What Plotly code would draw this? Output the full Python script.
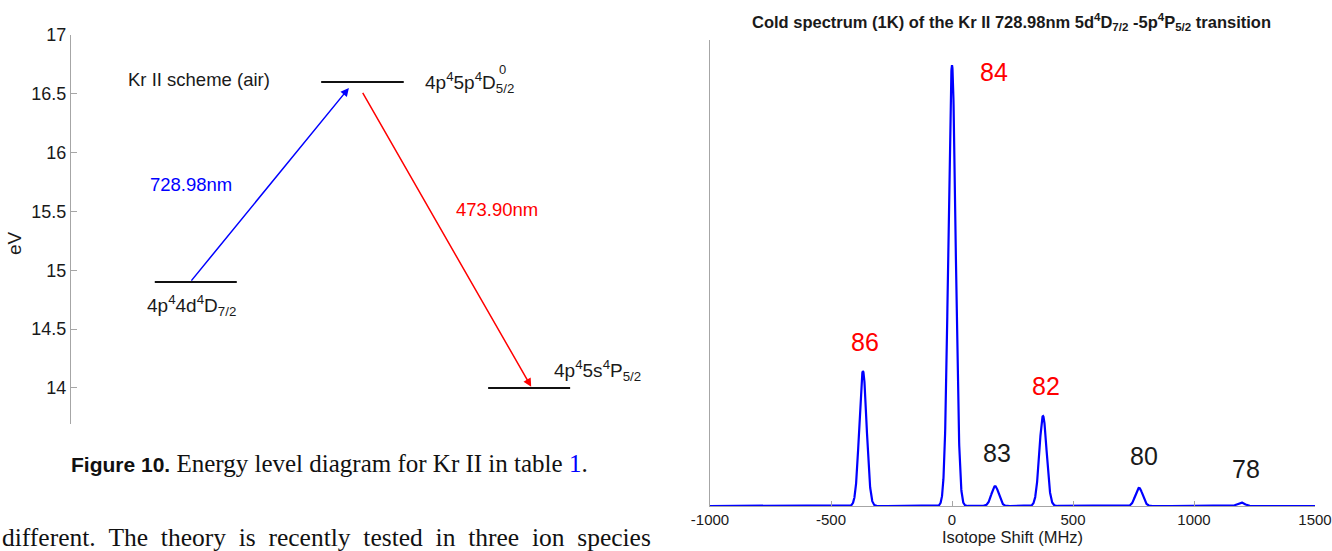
import numpy as np
import plotly.graph_objects as go

W, H = 1332, 551

# ---------------- Kr II energy level scheme ----------------
level_names = [
    "4p<sup>4</sup>4d<sup>4</sup>D<sub>7/2</sub>",
    "4p<sup>4</sup>5p<sup>4</sup>D<sub>5/2</sub>",
    "4p<sup>4</sup>5s<sup>4</sup>P<sub>5/2</sub>",
]
level_energy = [14.90, 16.60, 14.00]          # eV
level_x0 = [1.42, 4.24, 7.07]
level_x1 = [2.81, 5.64, 8.46]

transition_labels = ["728.98nm", "473.90nm"]
transition_colors = ["#0000ff", "#ff0000"]
transition_tail_x = [2.02, 4.93]
transition_tail_e = [14.90, 16.52]
transition_head_x = [4.71, 7.80]
transition_head_e = [16.55, 14.01]

energy_ticks = [14, 14.5, 15, 15.5, 16, 16.5, 17]

# ---------------- Isotope spectrum (1K) ----------------
isotopes = ["86", "84", "83", "82", "80", "78"]
isotope_shift = [-368, 0, 178, 376, 773, 1194]      # MHz
isotope_height = [30.6, 100.0, 4.5, 20.4, 4.1, 0.8]  # relative
isotope_label_color = ["#ff0000", "#ff0000", "#1a1a1a", "#ff0000", "#1a1a1a", "#1a1a1a"]
doppler_sigma = 15.0                                  # MHz

shift_ticks = [-1000, -500, 0, 500, 1000, 1500]
shift_ticktext = ["-1000", "-500", "0", "500", "1000", "1500"]

# label placement (MHz, relative intensity)
iso_label_x = [-360, 174, 186, 388, 793, 1215]
iso_label_y = [37.2, 98.4, 12.0, 27.2, 11.3, 8.4]

freq = np.linspace(-1000, 1500, 5001)
spectrum = np.zeros_like(freq)
for c, h in zip(isotope_shift, isotope_height):
    spectrum += h * np.exp(-0.5 * ((freq - c) / doppler_sigma) ** 2)


def px_x(p):
    return p / W


def px_y(p):
    return 1 - p / H


SANS = "Liberation Sans, Arial, Helvetica, sans-serif"
SERIF = "Liberation Serif, Times New Roman, serif"
TXT = "#1a1a1a"
AXC = "#a6a6a6"
NB = "\u00a0"

fig = go.Figure()

# energy levels
lx, ly = [], []
for x0, x1, e in zip(level_x0, level_x1, level_energy):
    lx += [x0, x1, None]
    ly += [e, e, None]
fig.add_trace(go.Scatter(x=lx, y=ly, mode="lines", line=dict(color="#111111", width=2),
                         xaxis="x", yaxis="y", hoverinfo="skip", showlegend=False))

# spectrum
fig.add_trace(go.Scatter(x=freq, y=spectrum, mode="lines", line=dict(color="#0000ff", width=2.2),
                         xaxis="x2", yaxis="y2", hoverinfo="skip", showlegend=False))

ann = []

# transitions as arrows
for tx, te, hx, he, col in zip(transition_tail_x, transition_tail_e,
                               transition_head_x, transition_head_e, transition_colors):
    ann.append(dict(x=hx, y=he, ax=tx, ay=te, xref="x", yref="y", axref="x", ayref="y",
                    text="", showarrow=True, arrowhead=2, arrowsize=1.1, arrowwidth=1.5,
                    arrowcolor=col, standoff=0, startstandoff=0))

# transition wavelength labels
trans_label_pos = [(2.03, 15.73), (7.22, 15.52)]
for lab, col, (x, y) in zip(transition_labels, transition_colors, trans_label_pos):
    ann.append(dict(x=x, y=y, xref="x", yref="y", text=lab, showarrow=False,
                    font=dict(family=SANS, size=18.5, color=col), xanchor="center", yanchor="middle"))

# level labels
level_label_pos = [(1.25, 14.70), (5.97, 16.60), (8.15, 14.15)]
for lab, (x, y) in zip(level_names, level_label_pos):
    ann.append(dict(x=x, y=y, xref="x", yref="y", text=lab, showarrow=False,
                    font=dict(family=SANS, size=19, color=TXT), xanchor="left", yanchor="middle"))
# stacked superscript on the upper level term
ann.append(dict(x=px_x(502), y=px_y(69), xref="paper", yref="paper", text="0", showarrow=False,
                font=dict(family=SANS, size=13, color=TXT), xanchor="center", yanchor="middle"))

ann.append(dict(x=2.17, y=16.62, xref="x", yref="y", text="Kr II scheme (air)", showarrow=False,
                font=dict(family=SANS, size=18.5, color=TXT), xanchor="center", yanchor="middle"))

# y-axis title of the level scheme
ann.append(dict(x=px_x(15), y=px_y(243), xref="paper", yref="paper", text="eV", textangle=-90,
                showarrow=False, font=dict(family=SANS, size=19, color=TXT),
                xanchor="center", yanchor="middle"))

# isotope labels
for lab, col, x, y in zip(isotopes, isotope_label_color, iso_label_x, iso_label_y):
    ann.append(dict(x=x, y=y, xref="x2", yref="y2", text=lab, showarrow=False,
                    font=dict(family=SANS, size=25, color=col), xanchor="center", yanchor="middle"))

# spectrum title
ann.append(dict(x=px_x(1011), y=px_y(22), xref="paper", yref="paper",
                text="<b>Cold spectrum (1K) of the Kr II 728.98nm 5d<sup>4</sup>D<sub>7/2</sub> "
                     "-5p<sup>4</sup>P<sub>5/2</sub> transition</b>",
                showarrow=False, font=dict(family=SANS, size=16.5, color=TXT),
                xanchor="center", yanchor="middle"))

# figure caption and body text
ann.append(dict(x=px_x(69), y=px_y(463), xref="paper", yref="paper",
                text='<b><span style="font-family:Liberation Sans, Arial, sans-serif;font-size:21px">'
                     'Figure 10.</span></b>'
                     ' Energy level diagram for Kr II in table <span style="color:#0000ff">1</span>.',
                showarrow=False, font=dict(family=SERIF, size=25, color="#111111"),
                xanchor="left", yanchor="middle"))
body_words = ["different.", "The", "theory", "is", "recently", "tested", "in", "three", "ion", "species"]
ann.append(dict(x=0, y=px_y(537), xref="paper", yref="paper",
                text=(" " + NB).join(body_words),
                showarrow=False, font=dict(family=SERIF, size=25.5, color="#111111"),
                xanchor="left", yanchor="middle"))

fig.update_layout(
    width=W, height=H,
    margin=dict(l=0, r=0, t=0, b=0, autoexpand=False),
    paper_bgcolor="white", plot_bgcolor="white",
    showlegend=False,
    annotations=ann,
    xaxis=dict(domain=[px_x(71), px_x(661)], range=[0, 10], visible=False, anchor="y",
               automargin=False),
    yaxis=dict(domain=[px_y(424), px_y(35)], range=[13.694, 17], anchor="x", automargin=False,
               tickvals=energy_ticks, ticks="inside", ticklen=6, tickcolor=AXC,
               showline=True, linecolor=AXC, linewidth=1, showgrid=False, zeroline=False,
               tickfont=dict(family=SANS, size=18, color=TXT)),
    xaxis2=dict(domain=[px_x(710), px_x(1315)], range=[-1000, 1500], anchor="y2", automargin=False,
                tickvals=shift_ticks, ticktext=shift_ticktext, ticks="inside", ticklen=5,
                tickcolor=AXC, showline=True, linecolor=AXC, linewidth=1,
                showgrid=False, zeroline=False,
                tickfont=dict(family=SANS, size=15, color=TXT),
                title=dict(text="Isotope Shift (MHz)", font=dict(family=SANS, size=16.5, color=TXT),
                           standoff=2)),
    yaxis2=dict(domain=[px_y(506), px_y(40)], range=[0, 105.7], anchor="x2", automargin=False,
                showline=True, linecolor=AXC, linewidth=1, showticklabels=False,
                ticks="", showgrid=False, zeroline=False),
)

fig.write_html("out.html", config={"displayModeBar": False})
